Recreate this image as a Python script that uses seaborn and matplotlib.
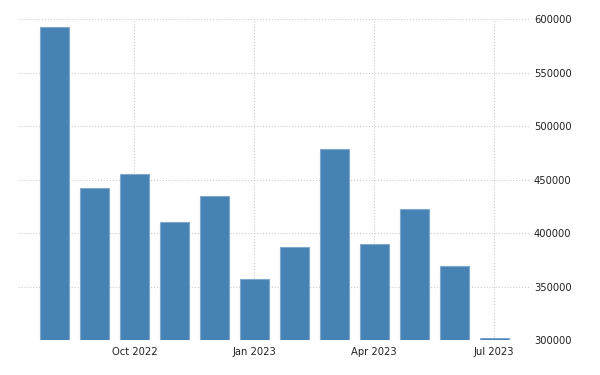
import matplotlib
matplotlib.use("Agg")
import matplotlib.pyplot as plt
import pandas as pd
import seaborn as sns

# --- Data ---
months = ["Aug 2022", "Sep 2022", "Oct 2022", "Nov 2022", "Dec 2022", "Jan 2023",
          "Feb 2023", "Mar 2023", "Apr 2023", "May 2023", "Jun 2023", "Jul 2023"]
values = [592500, 442300, 454900, 410000, 434600, 356700,
          387200, 478200, 390300, 422400, 369200, 301900]
tick_labels = ["Oct 2022", "Jan 2023", "Apr 2023", "Jul 2023"]
y_ticks = [300000, 350000, 400000, 450000, 500000, 550000, 600000]

df = pd.DataFrame({"Month": months, "Value": values})

sns.set_style("white")
plt.rcParams["font.family"] = ["DejaVu Sans"]

fig = plt.figure(figsize=(6, 3.75), dpi=100)
ax = fig.add_axes([0.03, 0.093, 0.853, 0.856])

sns.barplot(data=df, x="Month", y="Value", color="#4682b4", saturation=1,
            width=0.73, edgecolor="#7fa8cc", linewidth=0.8, ax=ax, zorder=3)

# --- Axes styling ---
ax.set_ylim(y_ticks[0], y_ticks[-1])
ax.set_xlim(-0.91, len(months) - 0.11)
ax.yaxis.tick_right()
ax.set_yticks(y_ticks)
ax.set_yticklabels([str(v) for v in y_ticks])
ax.set_xticks([months.index(t) for t in tick_labels])
ax.set_xticklabels(tick_labels)
ax.tick_params(axis="both", length=0, labelsize=7.2, colors="#222222")
ax.tick_params(axis="y", pad=3)
ax.tick_params(axis="x", pad=5)
ax.set_xlabel("")
ax.set_ylabel("")
for s in ax.spines.values():
    s.set_visible(False)
ax.grid(True, axis="both", linestyle=":", color="#cccccc", linewidth=0.8, zorder=0)
ax.set_axisbelow(True)

fig.savefig("out.png", dpi=100)
